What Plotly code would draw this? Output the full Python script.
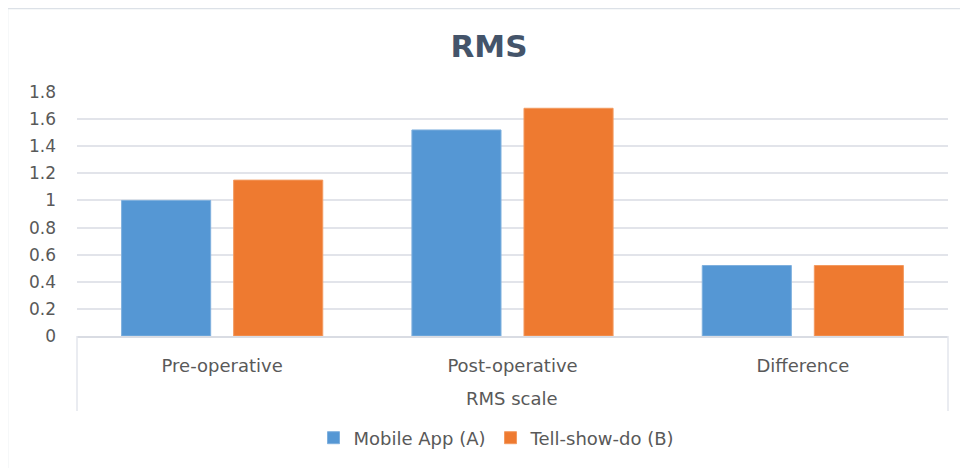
import plotly.graph_objects as go

categories = ["Pre-operative", "Post-operative", "Difference"]
mobile_app = [1.0, 1.52, 0.52]
tell_show_do = [1.15, 1.68, 0.52]
series_names = ["Mobile App (A)", "Tell-show-do (B)"]
y_ticks = [0, 0.2, 0.4, 0.6, 0.8, 1, 1.2, 1.4, 1.6, 1.8]

OFF = 8  # page body margin
W, H = 968 - OFF, 468 - OFF
L, R, T, B = 69, 20, 84, 132
pw, ph = W - L - R, H - T - B

def px_x(x):
    return (x - OFF - L) / pw

def px_y(y):
    return (H - B - (y - OFF)) / ph

FONT = "DejaVu Sans"
GRAY = "#595959"

fig = go.Figure()
fig.add_trace(go.Bar(x=categories, y=mobile_app, name=series_names[0],
                     marker=dict(color="#5597D4", line=dict(color="#7FB0DE", width=1))))
fig.add_trace(go.Bar(x=categories, y=tell_show_do, name=series_names[1],
                     marker=dict(color="#EE7A30", line=dict(color="#F39A60", width=1))))

border = "#DCE1E7"
shapes = [
    dict(type="line", xref="paper", yref="paper", x0=0, x1=0, y0=0, y1=px_y(411),
         line=dict(color="#E3E6EC", width=1.5)),
    dict(type="line", xref="paper", yref="paper", x0=1, x1=1, y0=0, y1=px_y(411),
         line=dict(color="#E3E6EC", width=1.5)),
    dict(type="line", xref="paper", yref="paper", x0=px_x(7), x1=px_x(7), y0=px_y(8), y1=px_y(470),
         line=dict(color=border, width=2.5)),
    dict(type="line", xref="paper", yref="paper", x0=px_x(6), x1=px_x(970), y0=px_y(8), y1=px_y(8),
         line=dict(color=border, width=2.5)),
]

fig.update_layout(
    width=W, height=H,
    margin=dict(l=L, r=R, t=T, b=B),
    paper_bgcolor="white", plot_bgcolor="white",
    barmode="group", bargap=0.228, bargroupgap=0.205,
    title=dict(text="<b>RMS</b>", x=(489 - OFF) / W, xanchor="center", y=1 - (46 - OFF) / H,
               yanchor="middle", font=dict(family=FONT, size=31, color="#44546A")),
    font=dict(family=FONT, color=GRAY),
    showlegend=True,
    legend=dict(orientation="h", x=px_x(497), xanchor="center", y=px_y(438), yanchor="middle",
                font=dict(family=FONT, size=18, color=GRAY), itemwidth=30,
                traceorder="normal"),
    xaxis=dict(showgrid=False, showline=True, linecolor="#D9DCE3", linewidth=1.5,
               ticks="", tickfont=dict(family=FONT, size=18, color=GRAY),
               ticklabelstandoff=13),
    yaxis=dict(range=[0, 1.8], tickvals=y_ticks, ticktext=[f"{v:g}" for v in y_ticks],
               showgrid=True, gridcolor="#E2E4EA", gridwidth=1.5, zeroline=False,
               showline=False, ticks="", tickfont=dict(family=FONT, size=17, color=GRAY),
               ticklabelstandoff=20),
    shapes=shapes,
    annotations=[dict(text="RMS scale", xref="paper", yref="paper", x=px_x(512), y=px_y(398),
                      showarrow=False, xanchor="center", yanchor="middle",
                      font=dict(family=FONT, size=18, color=GRAY))],
)

fig.write_html("out.html")
